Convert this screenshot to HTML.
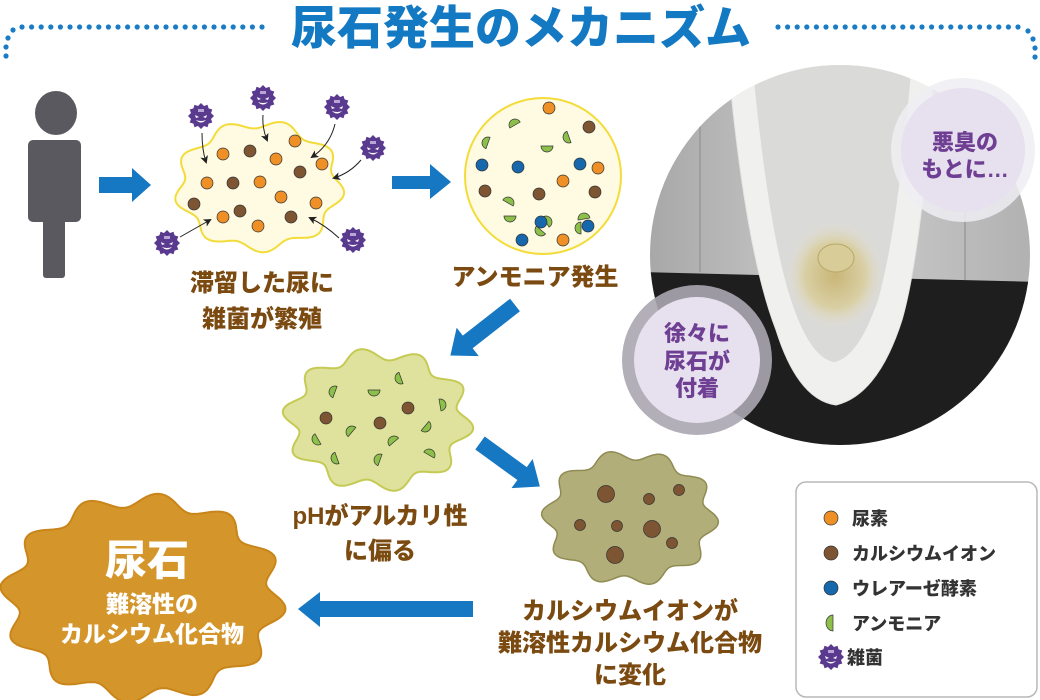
<!DOCTYPE html>
<html><head><meta charset="utf-8">
<style>
html,body{margin:0;padding:0;background:#fff;}
svg{display:block;}
text{font-family:"Liberation Sans","Noto Sans CJK JP",sans-serif;font-weight:900;}
</style></head>
<body>
<svg width="1040" height="700" viewBox="0 0 1040 700" xmlns="http://www.w3.org/2000/svg">
<defs>
  <g id="bac">
    <polygon points="0,-13 3,-10 6.5,-11.3 7.6,-7.6 11.3,-6.5 10,-3 13,0 10,3 11.3,6.5 7.6,7.6 6.5,11.3 3,10 0,13 -3,10 -6.5,11.3 -7.6,7.6 -11.3,6.5 -10,3 -13,0 -10,-3 -11.3,-6.5 -7.6,-7.6 -6.5,-11.3 -3,-10" fill="#5a3a8f"/>
    <path d="M-6,-1 L-2,1 L-5,2 Z M6,-1 L2,1 L5,2 Z" fill="#fff"/>
    <path d="M-5,4 Q0,9 5,4 Q0,6 -5,4Z" fill="#fff"/>
    <rect x="-3" y="-7" width="6" height="3" fill="#b9a6d6"/>
  </g>
  <path id="am" d="M0,-6 A6,6 0 0 1 0,6 Z" fill="#8cc04a" stroke="#333" stroke-width="0.7"/>
  <marker id="ah" markerWidth="8" markerHeight="8" refX="6" refY="4" orient="auto" markerUnits="userSpaceOnUse">
    <path d="M0,0 L8,4 L0,8 L2,4Z" fill="#222"/>
  </marker>
  <clipPath id="pc"><circle cx="840" cy="255" r="190"/></clipPath>
  <radialGradient id="stain" cx="0.5" cy="0.5" r="0.5">
    <stop offset="0" stop-color="#c9b677"/><stop offset="0.6" stop-color="#d9cfa4"/><stop offset="1" stop-color="#e4e1d6" stop-opacity="0"/>
  </radialGradient>
  <linearGradient id="wall" x1="0" y1="0" x2="1" y2="0">
    <stop offset="0" stop-color="#a6a6a6"/><stop offset="0.5" stop-color="#cdcdcd"/><stop offset="1" stop-color="#b0b0b0"/>
  </linearGradient>
</defs>

<!-- dotted title line -->
<g id="dotsL" fill="#1a7cc4"></g>
<text x="521" y="44" font-size="46" fill="#1479c3" text-anchor="middle">尿石発生のメカニズム</text>

<!-- person -->
<g fill="#5a5960">
  <ellipse cx="56" cy="113" rx="21" ry="22"/>
  <rect x="28" y="140" width="53" height="82" rx="5"/>
  <rect x="43" y="215" width="22" height="63" rx="3"/>
</g>

<!-- blue arrows -->
<g fill="#1677c2">
  <polygon points="99,177 132,177 132,168 151,185 132,202 132,193 99,193"/>
  <polygon points="392,176 430,176 430,164 451,182 430,199 430,189 392,189"/>
  <polygon points="473,601 320,601 320,592 298,609 320,627 320,617 473,617"/>
  <g transform="translate(515,305) rotate(142)"><polygon points="0,-8 60,-8 60,-18 82,0 60,18 60,8 0,8"/></g>
  <g transform="translate(480,443) rotate(36)"><polygon points="0,-8 52,-8 52,-18 74,0 52,18 52,8 0,8"/></g>
</g>

<!-- blob 1 -->
<path id="b1" fill="#fffbe3" stroke="#f3dc3a" stroke-width="2"/>
<g stroke="#333" stroke-width="0.7">
  <g fill="#ef9027">
    <circle cx="223" cy="154" r="6"/><circle cx="295" cy="141" r="6"/><circle cx="276" cy="159" r="6"/><circle cx="322" cy="164" r="6"/><circle cx="207" cy="183" r="6"/><circle cx="260" cy="182" r="6"/><circle cx="281" cy="197" r="6"/><circle cx="316" cy="203" r="6"/><circle cx="223" cy="217" r="6"/><circle cx="258" cy="226" r="6"/>
  </g>
  <g fill="#7e5532">
    <circle cx="250" cy="151" r="6"/><circle cx="300" cy="172" r="6"/><circle cx="233" cy="183" r="6"/><circle cx="194" cy="204" r="6"/><circle cx="240" cy="211" r="6"/><circle cx="291" cy="217" r="6"/>
  </g>
</g>
<g fill="none" stroke="#222" stroke-width="1" marker-end="url(#ah)">
  <path d="M202,133 Q202,150 206,162"/>
  <path d="M263,115 Q262,128 267,140"/>
  <path d="M335,124 Q330,145 312,157"/>
  <path d="M361,160 Q350,173 334,178"/>
  <path d="M339,238 Q325,225 310,218"/>
  <path d="M180,237 Q196,228 210,220"/>
</g>
<use href="#bac" x="201" y="116"/>
<use href="#bac" x="263" y="98"/>
<use href="#bac" x="337" y="107"/>
<use href="#bac" x="373" y="148"/>
<use href="#bac" x="353" y="240"/>
<use href="#bac" x="167" y="243"/>

<!-- circle 2 -->
<circle cx="543" cy="176" r="78" fill="#fffbe3" stroke="#f3dc3a" stroke-width="2"/>
<g stroke="#333" stroke-width="0.7">
  <g fill="#ef9027"><circle cx="549" cy="108" r="6"/><circle cx="598" cy="168" r="6"/><circle cx="563" cy="181" r="6"/><circle cx="563" cy="240" r="6"/></g>
  <g fill="#7e5532"><circle cx="589" cy="127" r="6"/><circle cx="485" cy="191" r="6"/><circle cx="539" cy="194" r="6"/><circle cx="595" cy="192" r="6"/></g>
  <g fill="#1667ab"><circle cx="482" cy="165" r="6"/><circle cx="518" cy="167" r="6"/><circle cx="580" cy="164" r="6"/><circle cx="522" cy="240" r="6"/></g>
</g>
<use href="#am" transform="translate(515,125) rotate(-120)"/>
<use href="#am" transform="translate(488,143) rotate(200)"/>
<use href="#am" transform="translate(547,146) rotate(90)"/>
<use href="#am" transform="translate(569,137) rotate(160)"/>
<use href="#am" transform="translate(508,203) rotate(-60)"/>
<use href="#am" transform="translate(510,216) rotate(90)"/>
<use href="#am" transform="translate(546,222) rotate(-30)"/>
<use href="#am" transform="translate(541,230) rotate(130)"/>
<use href="#am" transform="translate(584,219) rotate(-100)"/>
<use href="#am" transform="translate(581,228) rotate(180)"/>
<g stroke="#333" stroke-width="0.7" fill="#1667ab"><circle cx="541" cy="222" r="6"/><circle cx="588" cy="226" r="6"/></g>

<g fill="#7b4a10" text-anchor="middle" font-size="24">
  <text x="262" y="291">滞留した尿に</text>
  <text x="262" y="327">雑菌が繁殖</text>
  <text x="535" y="285">アンモニア発生</text>
  <text x="380" y="524">pHがアルカリ性</text>
  <text x="380" y="559">に偏る</text>
  <text x="630" y="619">カルシウムイオンが</text>
  <text x="630" y="651">難溶性カルシウム化合物</text>
  <text x="630" y="683">に変化</text>
</g>

<!-- blob 3 -->
<path id="b3" fill="#dfe29c" stroke="#c5ca55" stroke-width="2"/>
<g stroke="#333" stroke-width="0.7" fill="#7e5532"><circle cx="326" cy="418" r="6"/><circle cx="380" cy="423" r="6"/><circle cx="408" cy="408" r="6"/></g>
<use href="#am" transform="translate(335,392) rotate(200)"/>
<use href="#am" transform="translate(374,390) rotate(90)"/>
<use href="#am" transform="translate(401,378) rotate(160)"/>
<use href="#am" transform="translate(440,405) rotate(-10)"/>
<use href="#am" transform="translate(425,426) rotate(40)"/>
<use href="#am" transform="translate(352,432) rotate(220)"/>
<use href="#am" transform="translate(318,439) rotate(150)"/>
<use href="#am" transform="translate(394,442) rotate(230)"/>
<use href="#am" transform="translate(337,458) rotate(160)"/>
<use href="#am" transform="translate(380,460) rotate(200)"/>
<use href="#am" transform="translate(429,455) rotate(-60)"/>

<!-- blob 4 -->
<path id="b4" fill="#b1ae7a" stroke="#8f8b52" stroke-width="1.5"/>
<g stroke="#333" stroke-width="0.7" fill="#7e5532">
  <circle cx="606" cy="494" r="8.5"/><circle cx="649" cy="499" r="5.5"/><circle cx="679" cy="490" r="5.5"/><circle cx="580" cy="525" r="5.5"/><circle cx="617" cy="526" r="5.5"/><circle cx="652" cy="529" r="8.5"/><circle cx="672" cy="543" r="5.5"/><circle cx="615" cy="555" r="8.5"/>
</g>

<!-- orange blob -->
<path id="b5" fill="#d4962b" stroke="#c98519" stroke-width="2"/>
<g fill="#fff" text-anchor="middle">
  <text x="147" y="575" font-size="42">尿石</text>
  <text x="152" y="612" font-size="23">難溶性の</text>
  <text x="152" y="642" font-size="23">カルシウム化合物</text>
</g>

<!-- photo -->
<g clip-path="url(#pc)">
  <rect x="640" y="60" width="400" height="400" fill="url(#wall)"/>
  <polygon points="640,272 1040,282 1040,460 640,460" fill="#1e1e1e"/>
  <line x1="700" y1="60" x2="700" y2="272" stroke="#8a8a8a"/>
  <line x1="965" y1="60" x2="965" y2="280" stroke="#8a8a8a"/>
  <path d="M728,60 L935,60 Q922,250 902,320 Q878,395 836,405 Q798,400 776,330 Q745,250 728,60Z" fill="#f0f0ee" stroke="#e4e4e2"/>
  <path d="M752,60 L912,60 Q898,230 878,300 Q858,358 834,362 Q810,358 791,300 Q768,230 752,60Z" fill="#dadad8"/>
  <ellipse cx="835" cy="275" rx="50" ry="55" fill="url(#stain)"/>
  <ellipse cx="836" cy="258" rx="18" ry="14" fill="#d8cc98" stroke="#b8a868"/>
</g>
<circle cx="697" cy="360" r="75" fill="#aaa6b0" opacity="0.9"/>
<circle cx="697" cy="360" r="63" fill="#e7e0ef"/>
<circle cx="963" cy="150" r="72" fill="#efedf2" opacity="0.85"/>
<circle cx="963" cy="150" r="62" fill="#e7e0ef"/>
<g fill="#6e3f92" text-anchor="middle" font-size="22">
  <text x="965" y="150">悪臭の</text>
  <text x="965" y="177">もとに…</text>
  <text x="697" y="341">徐々に</text>
  <text x="697" y="369">尿石が</text>
  <text x="697" y="396">付着</text>
</g>

<!-- legend -->
<rect x="796" y="482" width="241" height="215" rx="10" fill="#fff" stroke="#b8b8b8" stroke-width="1.5"/>
<g stroke="#333" stroke-width="0.7">
  <circle cx="831" cy="518" r="7" fill="#ef9027"/>
  <circle cx="831" cy="553" r="7" fill="#7e5532"/>
  <circle cx="831" cy="588" r="7" fill="#1667ab"/>
</g>
<path d="M833,615 A7,8 0 0 0 833,631 Z" fill="#8cc04a" stroke="#333" stroke-width="0.7"/>
<use href="#bac" x="831" y="657"/>
<g fill="#333" font-size="18">
  <text x="852" y="525">尿素</text>
  <text x="852" y="560">カルシウムイオン</text>
  <text x="852" y="595">ウレアーゼ酵素</text>
  <text x="852" y="630">アンモニア</text>
  <text x="847" y="664">雑菌</text>
</g>

<script>
function blob(id,cx,cy,rx,ry,n,a,ph){
  var d='',N=240;
  for(var i=0;i<=N;i++){var t=i/N*Math.PI*2;var k=1+a*Math.sin(n*t+ph);
    var x=cx+rx*k*Math.cos(t),y=cy+ry*k*Math.sin(t);
    d+=(i?'L':'M')+x.toFixed(1)+','+y.toFixed(1);}
  document.getElementById(id).setAttribute('d',d+'Z');
}
blob('b1',259,186,80,62,9,0.07,0.5);
blob('b3',378,420,88,66,10,0.09,0.3);
blob('b4',630,518,82,63,10,0.08,0.9);
blob('b5',143,598,134,98,12,0.07,0.2);
var g=document.getElementById('dotsL');
function dot(x,y){var c=document.createElementNS('http://www.w3.org/2000/svg','circle');
  c.setAttribute('cx',x);c.setAttribute('cy',y);c.setAttribute('r','2.6');g.appendChild(c);}
for(var x=22;x<=268;x+=9.6)dot(x,27);
dot(13,30);dot(8,38);dot(6,47);dot(6,56);
for(var x=778;x<=1020;x+=9.6)dot(x,27);
dot(1028,31);dot(1033,39);dot(1035,48);dot(1035,57);
</script>
</svg>
</body></html>
